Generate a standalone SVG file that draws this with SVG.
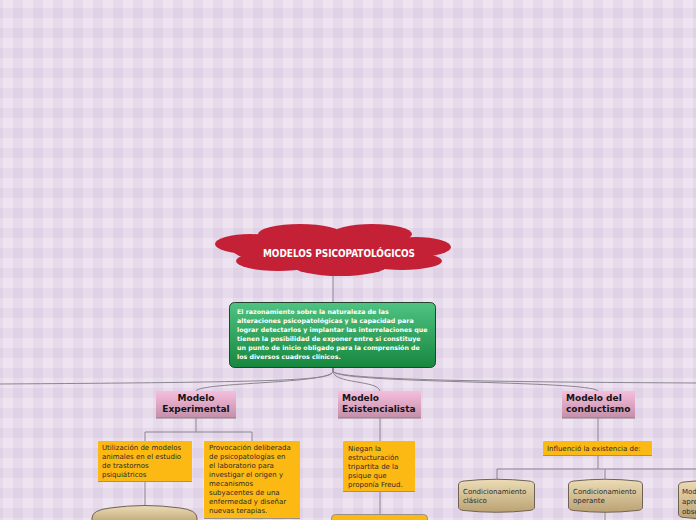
<svg xmlns="http://www.w3.org/2000/svg" width="696" height="520" viewBox="0 0 696 520">
<defs>
<pattern id="bg" width="20" height="20" patternUnits="userSpaceOnUse">
<rect width="20" height="20" fill="#eee4f1"/>
<rect x="13" y="0" width="7" height="20" fill="#c9b6d6" fill-opacity="0.22"/>
<rect x="0" y="0" width="3" height="20" fill="#c9b6d6" fill-opacity="0.22"/>
<rect x="0" y="8" width="20" height="10" fill="#c9b6d6" fill-opacity="0.22"/>
</pattern>
<linearGradient id="green" x1="0" y1="0" x2="0" y2="1">
<stop offset="0" stop-color="#4fc382"/>
<stop offset="1" stop-color="#17873f"/>
</linearGradient>
<linearGradient id="pink" x1="0" y1="0" x2="0" y2="1">
<stop offset="0" stop-color="#f6bedd"/>
<stop offset="1" stop-color="#c48ea9"/>
</linearGradient>
<linearGradient id="tan" x1="0" y1="0" x2="0" y2="1">
<stop offset="0" stop-color="#ecdcb6"/>
<stop offset="1" stop-color="#bba274"/>
</linearGradient>
<style>
.conn{fill:none;stroke:#8c8590;stroke-width:1}
.ttl{font-family:"DejaVu Sans",sans-serif;font-weight:bold;font-size:9px;fill:#141414}
.gtx{font-family:"DejaVu Sans",sans-serif;font-weight:bold;font-size:6.3px;fill:#ffffff}
.ytx{font-family:"DejaVu Sans",sans-serif;font-size:7px;fill:#2a2a2a}
.yel{fill:#fdb913}
.ybd{stroke:#9a8f8a;stroke-width:1}
.cyl{fill:url(#tan);stroke:#6e6353;stroke-width:1}
.pk{fill:url(#pink)}
</style>
</defs>
<rect width="696" height="520" fill="url(#bg)"/>

<g id="connectors">
<line class="conn" x1="333" y1="276" x2="333" y2="302" stroke="#a9a3ad"/>
<path class="conn" d="M333 367 L333 371 C333 380 300 382 0 384"/>
<path class="conn" d="M333 367 L333 371 C333 384 200 382 196 391"/>
<path class="conn" d="M333 367 L333 371 C333 384 378 380 380 391"/>
<path class="conn" d="M333 367 L333 371 C333 384 590 380 598 391"/>
<path class="conn" d="M333 367 L333 371 C333 380 500 382 696 383"/>
<path class="conn" d="M196 418 L196 432 M145 432 L252 432 M145 432 L145 441 M252 432 L252 441"/>
<path class="conn" d="M145 481 L145 506"/>
<path class="conn" d="M380 418 L380 441 M380 491 L380 514"/>
<path class="conn" d="M598 418 L598 441"/>
<path class="conn" d="M598 455 L598 469" stroke="#6e6870" stroke-width="2"/>
<path class="conn" d="M497 469 L696 469 M497 469 L497 480 M605 469 L605 480 M605 512 L605 520"/>
</g>

<g id="title">
<g fill="#c42136">
<ellipse cx="333" cy="250" rx="100" ry="17"/>
<ellipse cx="300" cy="234" rx="42" ry="10"/>
<ellipse cx="372" cy="234" rx="40" ry="10"/>
<ellipse cx="250" cy="244" rx="35" ry="10"/>
<ellipse cx="416" cy="247" rx="35" ry="10"/>
<ellipse cx="278" cy="261" rx="42" ry="10"/>
<ellipse cx="340" cy="265" rx="48" ry="11"/>
<ellipse cx="402" cy="261" rx="40" ry="9"/>
</g>
<text x="339" y="257" text-anchor="middle" textLength="152" lengthAdjust="spacingAndGlyphs" font-family="'DejaVu Sans Condensed','DejaVu Sans',sans-serif" font-weight="bold" font-size="10" fill="#ffffff">MODELOS PSICOPATOLÓGICOS</text>
</g>

<g id="intro">
<rect x="229.5" y="302.5" width="206" height="65" rx="5" fill="url(#green)" stroke="#24422f"/>
<text class="gtx" x="237" y="314">El razonamiento sobre la naturaleza de las</text>
<text class="gtx" x="237" y="323">alteraciones psicopatológicas y la capacidad para</text>
<text class="gtx" x="237" y="332">lograr detectarlos y implantar las interrelaciones que</text>
<text class="gtx" x="237" y="341">tienen la posibilidad de exponer entre si constituye</text>
<text class="gtx" x="237" y="350">un punto de inicio obligado para la comprensión de</text>
<text class="gtx" x="237" y="359">los diversos cuadros clínicos.</text>
</g>

<g id="experimental">
<rect class="pk" x="156" y="391" width="80" height="27"/>
<line x1="156" y1="418" x2="236" y2="418" stroke="#8f7a86"/>
<text class="ttl" x="196" y="401" text-anchor="middle">Modelo</text>
<text class="ttl" x="196" y="412" text-anchor="middle">Experimental</text>
</g>

<g id="existencialista">
<rect class="pk" x="338" y="391" width="83" height="27"/>
<line x1="338" y1="418" x2="421" y2="418" stroke="#8f7a86"/>
<text class="ttl" x="342" y="401">Modelo</text>
<text class="ttl" x="342" y="412">Existencialista</text>
</g>

<g id="conductismo">
<rect class="pk" x="562" y="391" width="73" height="27"/>
<line x1="562" y1="418" x2="635" y2="418" stroke="#8f7a86"/>
<text class="ttl" x="566" y="401">Modelo del</text>
<text class="ttl" x="566" y="412">conductismo</text>
</g>

<g id="exp1">
<rect class="yel" x="98" y="441" width="94" height="40" rx="1"/>
<line class="ybd" x1="98" y1="481.5" x2="192" y2="481.5"/>
<text class="ytx" x="102" y="450">Utilización de modelos</text>
<text class="ytx" x="102" y="459">animales en el estudio</text>
<text class="ytx" x="102" y="468">de trastornos</text>
<text class="ytx" x="102" y="477">psiquiátricos</text>
</g>

<g id="exp2">
<rect class="yel" x="204" y="441" width="96" height="77" rx="1"/>
<line class="ybd" x1="204" y1="518.5" x2="300" y2="518.5"/>
<text class="ytx" x="209" y="450">Provocación deliberada</text>
<text class="ytx" x="209" y="459">de psicopatologías en</text>
<text class="ytx" x="209" y="468">el laboratorio para</text>
<text class="ytx" x="209" y="477">investigar el origen y</text>
<text class="ytx" x="209" y="486">mecanismos</text>
<text class="ytx" x="209" y="495">subyacentes de una</text>
<text class="ytx" x="209" y="504">enfermedad y diseñar</text>
<text class="ytx" x="209" y="513">nuevas terapias.</text>
</g>

<g id="exp3">
<path class="cyl" d="M92 524 L92 518 Q92 510 110 508 Q145 503 180 508 Q197 510 197 518 L197 524"/>
</g>

<g id="exi1">
<rect class="yel" x="343" y="441" width="72" height="50" rx="1"/>
<line class="ybd" x1="343" y1="491.5" x2="415" y2="491.5"/>
<text class="ytx" x="348" y="451">Niegan la</text>
<text class="ytx" x="348" y="460">estructuración</text>
<text class="ytx" x="348" y="469">tripartita de la</text>
<text class="ytx" x="348" y="478">psique que</text>
<text class="ytx" x="348" y="487">proponía Freud.</text>
</g>

<g id="exi2">
<rect class="yel" x="331.5" y="514.5" width="96" height="20" rx="4" stroke="#9a8f8a"/>
</g>

<g id="con1">
<rect class="yel" x="543" y="441" width="109" height="14" rx="1"/>
<line class="ybd" x1="543" y1="455.5" x2="652" y2="455.5"/>
<text class="ytx" x="547" y="451">Influenció la existencia de:</text>
</g>

<g id="clasico">
<path class="cyl" d="M458.5 485 Q458.5 481.5 464 481 Q496 477.5 529 481 Q534.5 481.5 534.5 485 L534.5 507 Q534.5 510 529 510.5 Q496 514 464 510.5 Q458.5 510 458.5 507 Z"/>
<text class="ytx" x="463" y="494">Condicionamiento</text>
<text class="ytx" x="463" y="503">clásico</text>
</g>

<g id="operante">
<path class="cyl" d="M568.5 485 Q568.5 481.5 574 481 Q605 477.5 637 481 Q642.5 481.5 642.5 485 L642.5 507 Q642.5 510 637 510.5 Q605 514 574 510.5 Q568.5 510 568.5 507 Z"/>
<text class="ytx" x="573" y="494">Condicionamiento</text>
<text class="ytx" x="573" y="503">operante</text>
</g>

<g id="observacional">
<path class="cyl" d="M678.5 486 Q678.5 482.5 684 482 Q715 478.5 747 482 Q752.5 482.5 752.5 486 L752.5 514 Q752.5 517 747 517.5 Q715 521 684 517.5 Q678.5 517 678.5 514 Z"/>
<text class="ytx" x="682" y="494">Modelo de</text>
<text class="ytx" x="682" y="504">aprendizaje</text>
<text class="ytx" x="682" y="514">observacional</text>
</g>
</svg>
